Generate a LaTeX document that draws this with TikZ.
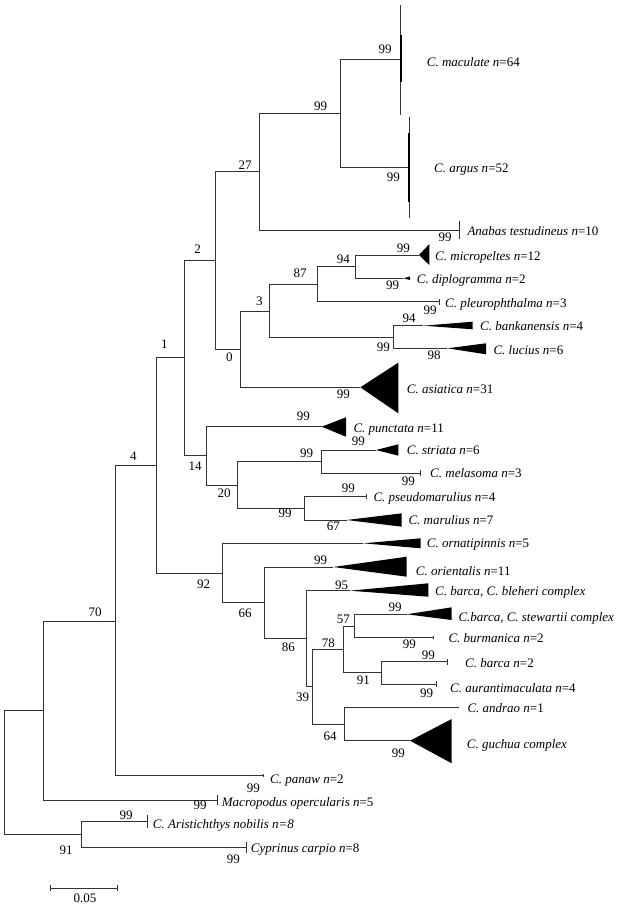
\documentclass[tikz,border=0pt]{standalone}
\usepackage{fontspec}
\setmainfont{Liberation Serif}
\tikzset{
  branch/.style={line width=0.8pt, black!80},
  clade/.style={fill=black},
  boot/.style={anchor=base, yshift=-4.4pt, inner sep=0pt, font=\fontsize{13}{15}\selectfont},
  taxon/.style={anchor=base west, yshift=-4.4pt, inner sep=0pt, font=\fontsize{13}{15}\selectfont},
}
\newcommand{\taxn}[2]{\textit{#1 n}=#2}

\begin{document}
\begin{tikzpicture}[x=1pt, y=-1pt]
\useasboundingbox (0,0) rectangle (622,909);

% Internal nodes
\coordinate (root) at (4.3,772.8);
\coordinate (base) at (43.3,710.7);
\coordinate (b70) at (115,621);
\coordinate (b4) at (156.7,465.5);
\coordinate (b1) at (184.3,357.8);
\coordinate (b2) at (215.7,260.4);
\coordinate (b27) at (259.3,171.7);
\coordinate (b99a) at (340,113.3);
\coordinate (b0) at (240.7,349);
\coordinate (b3) at (269.3,311);
\coordinate (b87) at (317.3,284);
\coordinate (b94) at (355.7,266.5);
\coordinate (b99b) at (393.3,337);
\coordinate (b14) at (206.7,455.7);
\coordinate (b20) at (237,485);
\coordinate (b99c) at (321.7,461.7);
\coordinate (b99d) at (304.3,508.3);
\coordinate (b92) at (222.7,573);
\coordinate (b66) at (264.3,602.7);
\coordinate (b86) at (306.7,638);
\coordinate (b39) at (312.7,686.3);
\coordinate (b78) at (343.3,649.3);
\coordinate (b57) at (354,626);
\coordinate (b91a) at (381,672.8);
\coordinate (b64) at (344,724);
\coordinate (b91b) at (81.7,834.5);

% Tips
\coordinate (t-mcu) at (400.7,59.3);
\coordinate (t-arg) at (409.3,167.3);
\coordinate (t-ana) at (459.3,230);
\coordinate (t-mic) at (419,255);
\coordinate (t-dip) at (403.3,278.3);
\coordinate (t-ple) at (439.3,301.7);
\coordinate (t-ban) at (423.3,325.7);
\coordinate (t-luc) at (447.3,348.3);
\coordinate (t-asi) at (360.3,387.3);
\coordinate (t-pun) at (321.7,426.7);
\coordinate (t-str) at (376,450);
\coordinate (t-mel) at (420.7,473.3);
\coordinate (t-pse) at (366,496.7);
\coordinate (t-mar) at (346.7,520);
\coordinate (t-orn) at (363.3,543.3);
\coordinate (t-ori) at (333.3,567);
\coordinate (t-ble) at (350,590.7);
\coordinate (t-ste) at (406.7,614.3);
\coordinate (t-bur) at (433.3,637.3);
\coordinate (t-bar) at (447.3,661.7);
\coordinate (t-aur) at (436.7,684);
\coordinate (t-and) at (459.3,707.3);
\coordinate (t-guc) at (410,740.7);
\coordinate (t-pan) at (263.3,775.7);
\coordinate (t-mpo) at (217.3,800);
\coordinate (t-ari) at (147,821.7);
\coordinate (t-cyp) at (246,847.3);

% Branches
\foreach \p/\c in {root/base, root/b91b, base/b70, base/t-mpo, b70/b4, b70/t-pan,
    b4/b1, b4/b92, b1/b2, b1/b14, b2/b27, b2/b0, b27/b99a, b27/t-ana,
    b99a/t-mcu, b99a/t-arg, b0/b3, b0/t-asi, b3/b87, b3/b99b, b87/b94, b87/t-ple,
    b94/t-mic, b94/t-dip, b99b/t-ban, b99b/t-luc, b14/t-pun, b14/b20,
    b20/b99c, b20/b99d, b99c/t-str, b99c/t-mel, b99d/t-pse, b99d/t-mar,
    b92/t-orn, b92/b66, b66/t-ori, b66/b86, b86/t-ble, b86/b39, b39/b78, b39/b64,
    b78/b57, b78/b91a, b57/t-ste, b57/t-bur, b91a/t-bar, b91a/t-aur,
    b64/t-and, b64/t-guc, b91b/t-ari, b91b/t-cyp}{
  \draw[branch] (\p) |- (\c);
}

% Collapsed clades
\foreach \n/\r/\t/\b in {mic/429.3/244/265, dip/410/276.5/280, ban/472.7/321.7/329.3,
    luc/486/343.3/354.3, asi/398.3/362.7/413.3, pun/346/417.3/436.7,
    str/398.3/444.3/455.7, mar/401.7/513.3/526.7, orn/420.7/538.3/548.3,
    ori/406.7/556.7/576.7, ble/428.3/583.3/596.7, ste/451.7/607.3/620,
    guc/451.7/719/763.3}{
  \fill[clade] (t-\n) -- (\r,\t) -- (\r,\b) -- cycle;
}
\draw[branch] (400.7,5) -- (400.7,115);
\draw[line width=2pt] (400.7,35) -- (400.7,82);
\draw[branch] (409.3,116.7) -- (409.3,218.3);
\draw[line width=2pt] (409.3,133) -- (409.3,201.7);
\foreach \n/\h in {ana/8.7, ple/3, mel/3, pse/2.5, bur/1.5, bar/3, aur/3.3,
    pan/1.5, mpo/5, ari/6.3, cyp/5.5}{
  \draw[branch] (t-\n) ++(0,-\h) -- ++(0,2*\h);
}

% Bootstrap values
\foreach \x/\y/\v [count=\i] in {385/49/99, 320.7/106/99, 245/165/27, 393.3/176.7/99,
    445/237.3/99, 197.7/249.3/2, 403.3/248.3/99, 343.3/259.3/94, 392.7/285/99,
    300/273.3/87, 259.3/300.7/3, 430/310/99, 409/318.3/94, 383.3/346.7/99,
    434/355/98, 343.3/394/99, 229.3/357.3/0, 164.3/344/1, 133.3/456/4,
    195/466/14, 224/492.7/20, 303.3/416/99, 306.7/452.7/99, 358.3/440.7/99,
    408.3/480.7/99, 348.3/488.3/99, 285/513.3/99, 333.3/526/67, 203.7/584.5/92,
    245/613/66, 320.7/560/99, 288.3/646.7/86, 341.7/585/95, 343.3/619.3/57,
    395/607.3/99, 409.3/644/99, 328.3/642.7/78, 363.3/680/91, 428.3/655/99,
    426.7/692.7/99, 302.7/697.3/39, 330/736/64, 398.3/752.7/99, 95/611.7/70,
    253.3/788.3/99, 200/805/99, 66/850/91, 126/815/99, 233.3/859.3/99}{
  \node[boot] (bs\i) at (\x,\y) {\v};
}

% Taxa
\node[taxon] (x-mcu) at (426.7,61.7) {\taxn{C. maculate}{64}};
\node[taxon] (x-arg) at (434,168.3) {\taxn{C. argus}{52}};
\node[taxon] (x-ana) at (467.3,230.7) {\taxn{Anabas testudineus}{10}};
\node[taxon] (x-mic) at (435,256) {\taxn{C. micropeltes}{12}};
\node[taxon] (x-dip) at (416.7,279.3) {\taxn{C. diplogramma}{2}};
\node[taxon] (x-ple) at (445,303.3) {\taxn{C. pleurophthalma}{3}};
\node[taxon] (x-ban) at (480,326) {\taxn{C. bankanensis}{4}};
\node[taxon] (x-luc) at (493.3,350) {\taxn{C. lucius}{6}};
\node[taxon] (x-asi) at (406.7,389.3) {\taxn{C. asiatica}{31}};
\node[taxon] (x-pun) at (353.3,427.7) {\taxn{C. punctata}{11}};
\node[taxon] (x-str) at (406.7,450) {\taxn{C. striata}{6}};
\node[taxon] (x-mel) at (430,472.7) {\taxn{C. melasoma}{3}};
\node[taxon] (x-pse) at (373.3,497.3) {\taxn{C. pseudomarulius}{4}};
\node[taxon] (x-mar) at (408.3,520) {\taxn{C. marulius}{7}};
\node[taxon] (x-orn) at (426.7,543.3) {\taxn{C. ornatipinnis}{5}};
\node[taxon] (x-ori) at (415.7,570.7) {\taxn{C. orientalis}{11}};
\node[taxon] (x-ble) at (435,590.7) {\textit{C. barca, C. bleheri complex}};
\node[taxon] (x-ste) at (458.3,616.7) {\textit{C.barca, C. stewartii complex}};
\node[taxon] (x-bur) at (448.3,638.3) {\taxn{C. burmanica}{2}};
\node[taxon] (x-bar) at (465,662.7) {\taxn{C. barca}{2}};
\node[taxon] (x-aur) at (450,687.7) {\taxn{C. aurantimaculata}{4}};
\node[taxon] (x-and) at (467.3,708.3) {\taxn{C. andrao}{1}};
\node[taxon] (x-guc) at (466.7,744) {\textit{C. guchua complex}};
\node[taxon] (x-pan) at (270,779) {\taxn{C. panaw}{2}};
\node[taxon] (x-mpo) at (221.7,801.7) {\taxn{Macropodus opercularis}{5}};
\node[taxon] (x-ari) at (152.7,824) {\textit{C. Aristichthys nobilis n=8}};
\node[taxon] (x-cyp) at (250.7,848.3) {\taxn{Cyprinus carpio}{8}};

% Scale bar
\coordinate (sb-l) at (50.7,888.3);
\coordinate (sb-r) at (117.3,888.3);
\draw[branch] (sb-l) -- (sb-r);
\draw[branch] (sb-l) ++(0,-3) -- ++(0,6);
\draw[branch] (sb-r) ++(0,-3) -- ++(0,6);
\node[boot] (sb) at (85,898.3) {0.05};
\end{tikzpicture}
\end{document}
